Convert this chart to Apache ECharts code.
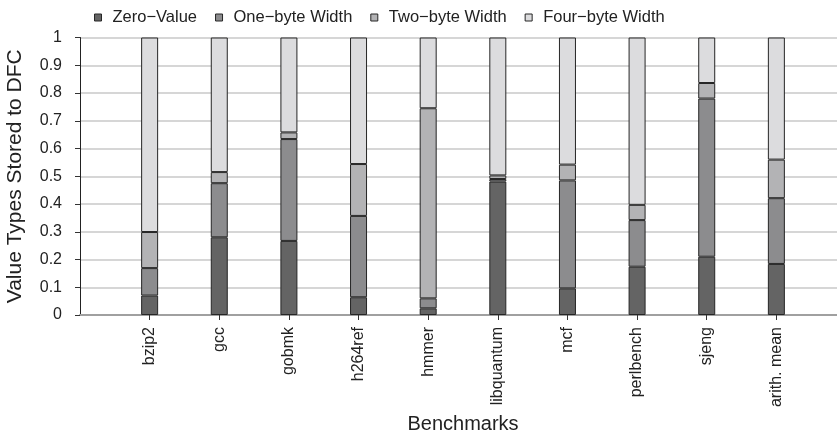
<!DOCTYPE html>
<html>
<head>
<meta charset="utf-8">
<script src="https://cdn.jsdelivr.net/npm/echarts@6/dist/echarts.min.js"></script>
<style>
  html, body { margin: 0; padding: 0; background: #fff; }
  #chart { width: 837px; height: 439px; }
</style>
</head>
<body>
<div id="chart"></div>
<script>
// Share of value types written to the DFC, per benchmark
const categories = ['bzip2', 'gcc', 'gobmk', 'h264ref', 'hmmer', 'libquantum', 'mcf', 'perlbench', 'sjeng', 'arith. mean'];
const seriesNames = ['Zero\u2212Value', 'One\u2212byte Width', 'Two\u2212byte Width', 'Four\u2212byte Width'];
const zeroValue = [0.070, 0.280, 0.267, 0.064, 0.024, 0.481, 0.096, 0.174, 0.210, 0.184];
const oneByte   = [0.099, 0.195, 0.367, 0.293, 0.036, 0.009, 0.389, 0.168, 0.570, 0.237];
const twoByte   = [0.130, 0.040, 0.024, 0.187, 0.685, 0.013, 0.057, 0.055, 0.056, 0.139];
const fourByte  = [0.701, 0.485, 0.342, 0.456, 0.255, 0.497, 0.458, 0.603, 0.164, 0.440];
const yTicks = [0, 0.1, 0.2, 0.3, 0.4, 0.5, 0.6, 0.7, 0.8, 0.9, 1];

const fills = ['#646464', '#8c8c8e', '#b3b3b5', '#dcdcde'];
const font = 'Liberation Sans, Arial, Helvetica, sans-serif';

// blank slots at both ends keep the bars away from the axes
const axisCats = [''].concat(categories, ['']);
const pad = arr => ['-'].concat(arr, ['-']);

const chart = echarts.init(document.getElementById('chart'), null, { renderer: 'canvas' });

const series = [zeroValue, oneByte, twoByte, fourByte].map((vals, i) => ({
  name: seriesNames[i],
  type: 'bar',
  stack: 'total',
  barWidth: 17,
  data: pad(vals),
  itemStyle: { color: fills[i], borderColor: '#262626', borderWidth: 1 },
  emphasis: { disabled: true }
}));

chart.setOption({
  animation: false,
  textStyle: { fontFamily: font },
  legend: {
    left: 89,
    top: 4,
    icon: 'rect',
    itemWidth: 7,
    itemHeight: 7,
    itemGap: 18,
    selectedMode: false,
    data: seriesNames,
    itemStyle: { borderColor: '#262626', borderWidth: 1 },
    textStyle: { fontSize: 16.5, color: '#222', fontFamily: font, padding: [0, 0, 0, 6] }
  },
  grid: {
    left: 80, right: -9, top: 37.5, bottom: 124,
    containLabel: false, outerBoundsMode: 'none'
  },
  xAxis: {
    type: 'category',
    data: axisCats,
    boundaryGap: false,
    name: 'Benchmarks',
    nameLocation: 'middle',
    nameGap: 94,
    nameTextStyle: { fontSize: 20, color: '#222', fontFamily: font },
    axisLine: { lineStyle: { color: '#a0a0a0', width: 2 } },
    axisTick: {
      show: true, length: 5, lineStyle: { color: '#333', width: 1 },
      interval: i => i > 0 && i <= categories.length
    },
    axisLabel: { rotate: 90, interval: 0, margin: 12, fontSize: 16, color: '#222', fontFamily: font },
    splitLine: { show: false }
  },
  yAxis: {
    type: 'value',
    min: yTicks[0],
    max: yTicks[yTicks.length - 1],
    interval: 0.1,
    name: 'Value Types Stored to DFC',
    nameLocation: 'middle',
    nameGap: 54,
    nameTextStyle: { fontSize: 21, color: '#222', fontFamily: font },
    axisLine: { show: true, lineStyle: { color: '#222', width: 1 } },
    axisTick: { show: true, length: 5, lineStyle: { color: '#333', width: 1 } },
    axisLabel: {
      margin: 18, fontSize: 16, color: '#222', fontFamily: font,
      formatter: v => String(+v.toFixed(1))
    },
    splitLine: { show: true, lineStyle: { color: '#c8c8c8', width: 1.5 } }
  },
  series: series
});
</script>
</body>
</html>
